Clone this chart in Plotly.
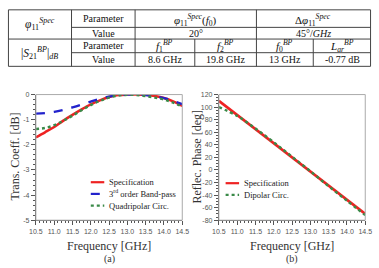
import plotly.graph_objects as go

W, H = 379, 268

# ---------------- data ----------------
freq_a = [10.5, 10.75, 11.0, 11.25, 11.5, 11.75, 12.0, 12.25, 12.5, 12.75,
          13.0, 13.25, 13.5, 13.75, 14.0, 14.25, 14.5]
spec_s21 = [-1.70, -1.50, -1.29, -1.04, -0.81, -0.59, -0.39, -0.23, -0.10, -0.02,
            0.0, 0.0, -0.01, -0.06, -0.14, -0.27, -0.45]
bp3_s21 = [-0.76, -0.74, -0.69, -0.61, -0.51, -0.40, -0.28, -0.17, -0.08, -0.02,
           0.0, 0.0, -0.02, -0.07, -0.14, -0.25, -0.38]
quad_s21 = [-1.37, -1.33, -1.22, -1.04, -0.84, -0.62, -0.42, -0.25, -0.12, -0.04,
            -0.01, -0.02, -0.06, -0.12, -0.20, -0.32, -0.48]

freq_b = [10.5, 11.0, 11.5, 12.0, 12.5, 13.0, 13.5, 14.0, 14.5]
spec_phase = [110, 87.5, 65, 42.5, 20, -2.5, -25, -47.5, -70]
dip_phase = [100, 86, 66, 44, 21, -2, -26, -49, -72]

x_ticks = [10.5, 11.0, 11.5, 12.0, 12.5, 13.0, 13.5, 14.0, 14.5]
y_ticks_a = [0, -1, -2, -3, -4, -5]
y_ticks_b = [120, 100, 80, 60, 40, 20, 0, -20, -40, -60, -80]

legend_a = ["Specification", "3<sup>rd</sup> order Band-pass", "Quadripolar Circ."]
legend_b = ["Specification", "Dipolar Circ."]

table_top_labels = ["Parameter", "Value"]
table_phi_head = ["<i>φ</i><sub>11</sub><sup><i>Spec</i></sup>(<i>f</i><sub>0</sub>)",
                  "Δ<i>φ</i><sub>11</sub><sup><i>Spec</i></sup>"]
table_phi_vals = ["20°", "45°/<i>GHz</i>"]
table_s21_head = ["<i>f</i><sub>1</sub><sup><i>BP</i></sup>", "<i>f</i><sub>2</sub><sup><i>BP</i></sup>",
                  "<i>f</i><sub>0</sub><sup><i>BP</i></sup>", "<i>L</i><sub><i>ar</i></sub><sup><i>BP</i></sup>"]
table_s21_vals = ["8.6 GHz", "19.8 GHz", "13 GHz", "-0.77 dB"]

RED = "#ee2222"
BLUE = "#2222cc"
GREEN = "#3a8a48"
SERIF = "Liberation Serif"
SANS = "Liberation Sans"


def px(x):
    return x / W


def py(y):
    return 1 - y / H


fig = go.Figure()
fig.add_trace(go.Scatter(x=freq_a, y=spec_s21, mode="lines", line=dict(color=RED, width=2.6, shape="spline"),
                         xaxis="x", yaxis="y", name=legend_a[0]))
fig.add_trace(go.Scatter(x=freq_a, y=bp3_s21, mode="lines", line=dict(color=BLUE, width=2.4, dash="dash", shape="spline"),
                         xaxis="x", yaxis="y", name=legend_a[1]))
fig.add_trace(go.Scatter(x=freq_a, y=quad_s21, mode="lines", line=dict(color=GREEN, width=2.4, dash="dot", shape="spline"),
                         xaxis="x", yaxis="y", name=legend_a[2]))
fig.add_trace(go.Scatter(x=freq_b, y=spec_phase, mode="lines", line=dict(color=RED, width=2.6),
                         xaxis="x2", yaxis="y2", name=legend_b[0]))
fig.add_trace(go.Scatter(x=freq_b, y=dip_phase, mode="lines", line=dict(color=GREEN, width=2.4, dash="dot", shape="spline"),
                         xaxis="x2", yaxis="y2", name=legend_b[1]))

ydom = [py(222), py(93)]
axis_common = dict(showline=True, linecolor="#555", linewidth=1, ticks="outside", ticklen=4,
                   tickcolor="#555", tickwidth=1, showgrid=False, zeroline=False,
                   tickfont=dict(family=SANS, size=7, color="#555"))
xminor = dict(dtick=0.1, ticks="outside", ticklen=2, tickcolor="#555", showgrid=False)

fig.update_layout(
    width=W, height=H, margin=dict(l=0, r=0, t=0, b=0),
    font=dict(family=SERIF),
    paper_bgcolor="white", plot_bgcolor="white", showlegend=False,
    xaxis=dict(domain=[px(30), px(182)], range=[10.5, 14.5], tickvals=x_ticks,
               ticktext=[f"{v:.1f}" for v in x_ticks], minor=xminor, anchor="y", **axis_common),
    yaxis=dict(domain=ydom, range=[-5, 0], tickvals=y_ticks_a, ticktext=[str(v) for v in y_ticks_a],
               minor=dict(dtick=0.2, ticks="outside", ticklen=2, tickcolor="#555", showgrid=False),
               anchor="x", **axis_common),
    xaxis2=dict(domain=[px(220), px(372)], range=[10.5, 14.5], tickvals=x_ticks,
                ticktext=[f"{v:.1f}" for v in x_ticks], minor=xminor, anchor="y2", **axis_common),
    yaxis2=dict(domain=ydom, range=[-80, 120], tickvals=y_ticks_b, ticktext=[str(v) for v in y_ticks_b],
                minor=dict(dtick=5, ticks="outside", ticklen=2, tickcolor="#555", showgrid=False),
                anchor="x2", **axis_common),
)

shapes = []
annotations = []


def note(text, x, y, size, family=SERIF, color="#222", xanchor="center", angle=0):
    annotations.append(dict(text=text, x=px(x), y=py(y), xref="paper", yref="paper", showarrow=False,
                            xanchor=xanchor, yanchor="middle", textangle=angle,
                            font=dict(family=family, size=size, color=color)))


# light frame around plots
for xr, yr in (("x domain", "y domain"), ("x2 domain", "y2 domain")):
    shapes.append(dict(type="rect", xref=xr, yref=yr, x0=0, x1=1, y0=0, y1=1,
                       line=dict(color="#aaa", width=1)))

# axis titles & captions
note("Frequency [GHz]", 106, 248, 12, color="#333")
note("Frequency [GHz]", 296, 248, 12, color="#333")
note("(a)", 106, 262, 10, color="#333")
note("(b)", 296, 262, 10, color="#333")
note("Trans. Coeff. [dB]", 8, 157, 12, color="#333", angle=-90)
note("Reflec. Phase [deg]", 197, 157, 12, color="#333", angle=-90)

# manual legends
leg_a_rows = [183, 195, 207]
leg_a_styles = [(RED, "solid"), (BLUE, "dash"), (GREEN, "dot")]
for lab, yy, (c, d) in zip(legend_a, leg_a_rows, leg_a_styles):
    shapes.append(dict(type="line", xref="paper", yref="paper", x0=px(87), x1=px(101), y0=py(yy), y1=py(yy),
                       line=dict(color=c, width=2.2, dash=d)))
    note(lab, 104, yy, 8.5, xanchor="left")
leg_b_rows = [184, 196]
leg_b_styles = [(RED, "solid"), (GREEN, "dot")]
for lab, yy, (c, d) in zip(legend_b, leg_b_rows, leg_b_styles):
    shapes.append(dict(type="line", xref="paper", yref="paper", x0=px(227), x1=px(241), y0=py(yy), y1=py(yy),
                       line=dict(color=c, width=2.2, dash=d)))
    note(lab, 244, yy, 8.5, xanchor="left")

# ---------------- table ----------------
TL = dict(color="#444", width=1)


def hline(x0, x1, y):
    shapes.append(dict(type="line", xref="paper", yref="paper", x0=px(x0), x1=px(x1), y0=py(y), y1=py(y), line=TL))


def vline(x, y0, y1):
    shapes.append(dict(type="line", xref="paper", yref="paper", x0=px(x), x1=px(x), y0=py(y0), y1=py(y1), line=TL))


tx0, tx1, ty0, ty1 = 1.5, 377.5, 6, 64
hline(tx0, tx1, ty0)
hline(tx0, tx1, ty1)
hline(tx0, tx1, 36)
hline(67, tx1, 24)
hline(67, tx1, 50)
vline(tx0, ty0, ty1)
vline(tx1, ty0, ty1)
vline(67, ty0, ty1)
vline(133, ty0, ty1)
vline(259, ty0, 36)
vline(195, 36, ty1)
vline(259, 36, ty1)
vline(318, 36, ty1)

cell_size = 10
note("<i>φ</i><sub>11</sub><sup><i>Spec</i></sup>", 34, 21, 11.5, color="#111")
note("|<i>S</i><sub>21</sub><sup><i>BP</i></sup>|<sub><i>dB</i></sub>", 34, 50, 11.5, color="#111")
note(table_top_labels[0], 100, 15, cell_size, color="#111")
note(table_top_labels[1], 100, 30, cell_size, color="#111")
note(table_top_labels[0], 100, 43, cell_size, color="#111")
note(table_top_labels[1], 100, 57, cell_size, color="#111")
note(table_phi_head[0], 196, 16, 11, color="#111")
note(table_phi_head[1], 318, 16, 11, color="#111")
note(table_phi_vals[0], 196, 30, cell_size, color="#111")
note(table_phi_vals[1], 318, 30, cell_size, color="#111")
for lab, val, xc in zip(table_s21_head, table_s21_vals, [164, 227, 288.5, 348]):
    note(lab, xc, 43, 11, color="#111")
    note(val, xc, 57, cell_size, color="#111")

fig.update_layout(shapes=shapes, annotations=annotations)
fig.write_html("out.html")
